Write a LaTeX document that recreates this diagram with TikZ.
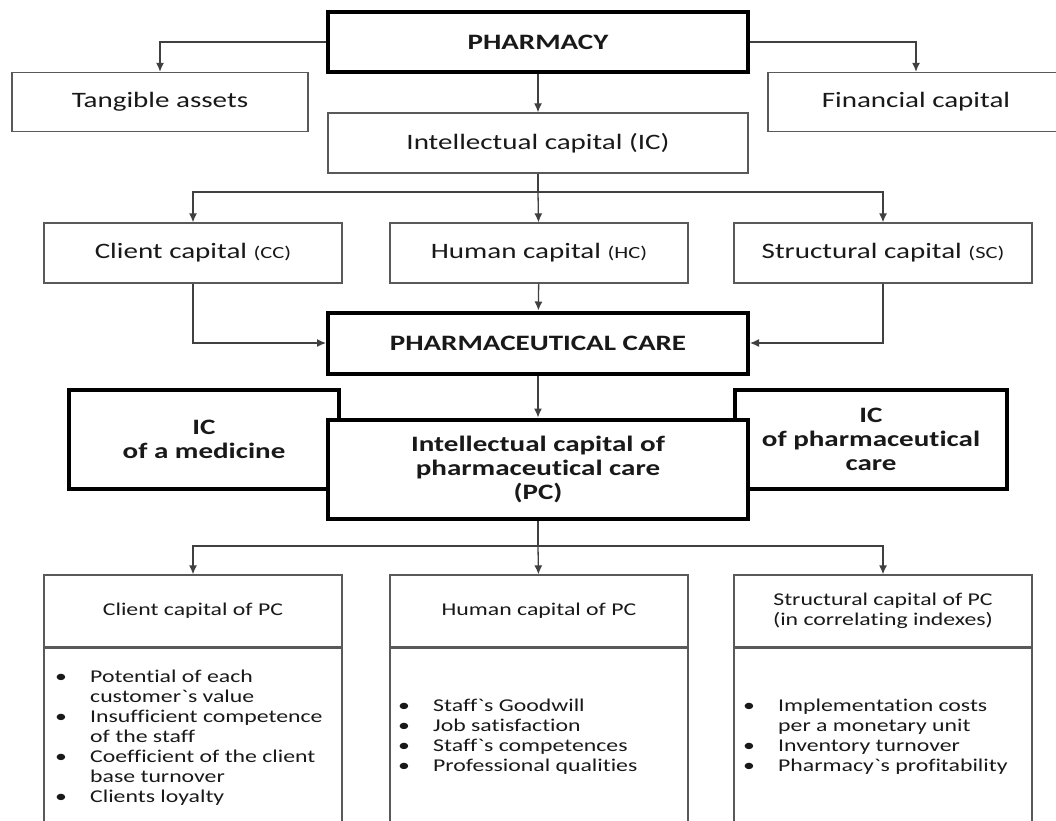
\documentclass[tikz,border=0pt]{standalone}
\usepackage{fontspec}
\setmainfont{Carlito}[FakeStretch=1.32, Ligatures={TeXOff,CommonOff}]
\usepackage{xcolor}
\usetikzlibrary{arrows.meta}

\newcommand{\bigtxt}{\fontsize{22}{24}\selectfont}
\newcommand{\smalltxt}{\fontsize{18}{20}\selectfont}
\newcommand{\abbr}[1]{{\fontsize{17}{20}\selectfont(#1)}}
\newcommand{\bul}{\makebox[35pt][l]{\textbullet}}

\begin{document}
\begin{tikzpicture}[
  x=1pt, y=-1pt,
  box/.style={draw=black!65, line width=1.3pt, fill=white, minimum height=60pt, align=center, font=\bigtxt, text=black!90},
  keybox/.style={box, draw=black, line width=4pt, font=\bigtxt\bfseries},
  head/.style={box, minimum width=298pt, minimum height=72pt, font=\smalltxt},
  body/.style={box, minimum width=298pt, minimum height=190pt, anchor=north},
  conn/.style={draw=black!75, line width=1.3pt},
  arr/.style={conn, -{Latex[length=9pt,width=8pt]}},
  list/.style={anchor=base west, inner sep=0pt, font=\smalltxt, text=black!90, align=left}
]
\useasboundingbox (0,0) rectangle (1056,820);
\clip (0,0) rectangle (1056,820);

% top level
\node[keybox, minimum width=420pt] (pharmacy) at (538,42) {PHARMACY};
\node[box, minimum width=296pt, minimum height=59pt] (tangible) at (160,102) {Tangible assets};
\node[box, minimum width=296pt, minimum height=59pt] (financial) at (916,102) {Financial capital};
\node[box, minimum width=420pt] (ic) at (538,143) {Intellectual capital (IC)};
\draw[arr] (pharmacy) -| (tangible);
\draw[arr] (pharmacy) -| (financial);
\draw[arr] (pharmacy) -- (ic);

% components of IC
\node[box, minimum width=298pt] (cc) at (193,253) {Client capital \abbr{CC}};
\node[box, minimum width=298pt] (hc) at (539,253) {Human capital \abbr{HC}};
\node[box, minimum width=298pt] (sc) at (883,253) {Structural capital \abbr{SC}};
\coordinate (icsplit) at (538,192);
\draw[conn] (ic) -- (icsplit);
\draw[arr] (icsplit) -| (cc);
\draw[arr] (icsplit) -- (hc);
\draw[arr] (icsplit) -| (sc);

% pharmaceutical care
\node[keybox, minimum width=420pt, minimum height=61pt] (phcare) at (538,343) {PHARMACEUTICAL CARE};
\draw[arr] (cc) |- (phcare);
\draw[arr] (hc) -- (phcare);
\draw[arr] (sc) |- (phcare);

\node[keybox, minimum width=270pt, minimum height=99pt] (icmed) at (204,439) {IC\\of a medicine};
\node[keybox, minimum width=272pt, minimum height=99pt] (icpc) at (871,439) {IC\\of pharmaceutical\\care};
\node[keybox, minimum width=420pt, minimum height=99pt] (pc) at (538,469) {Intellectual capital of\\pharmaceutical care\\(PC)};
\draw[arr] (phcare) -- (pc);

% components of PC
\node[head] (cchead) at (193,611) {Client capital of PC};
\node[head] (hchead) at (539,611) {Human capital of PC};
\node[head] (schead) at (883,611) {Structural capital of PC\\(in correlating indexes)};
\node[body] (ccbody) at (cchead.south) {};
\node[body] (hcbody) at (hchead.south) {};
\node[body] (scbody) at (schead.south) {};
\coordinate (pcsplit) at (538,546);
\draw[conn] (pc) -- (pcsplit);
\draw[arr] (pcsplit) -| (cchead);
\draw[arr] (pcsplit) -- (hchead);
\draw[arr] (pcsplit) -| (schead);

\node[list] (cclist) at (55,682) {\begin{tabular}[t]{@{}l@{}l@{}}
\bul & Potential of each\\
     & customer`s value\\
\bul & Insufficient competence\\
     & of the staff\\
\bul & Coefficient of the client\\
     & base turnover\\
\bul & Clients loyalty
\end{tabular}};
\node[list] (hclist) at (398,711) {\begin{tabular}[t]{@{}l@{}l@{}}
\bul & Staff`s Goodwill\\
\bul & Job satisfaction\\
\bul & Staff`s competences\\
\bul & Professional qualities
\end{tabular}};
\node[list] (sclist) at (743,711) {\begin{tabular}[t]{@{}l@{}l@{}}
\bul & Implementation costs\\
     & per a monetary unit\\
\bul & Inventory turnover\\
\bul & Pharmacy`s profitability
\end{tabular}};
\end{tikzpicture}
\end{document}
